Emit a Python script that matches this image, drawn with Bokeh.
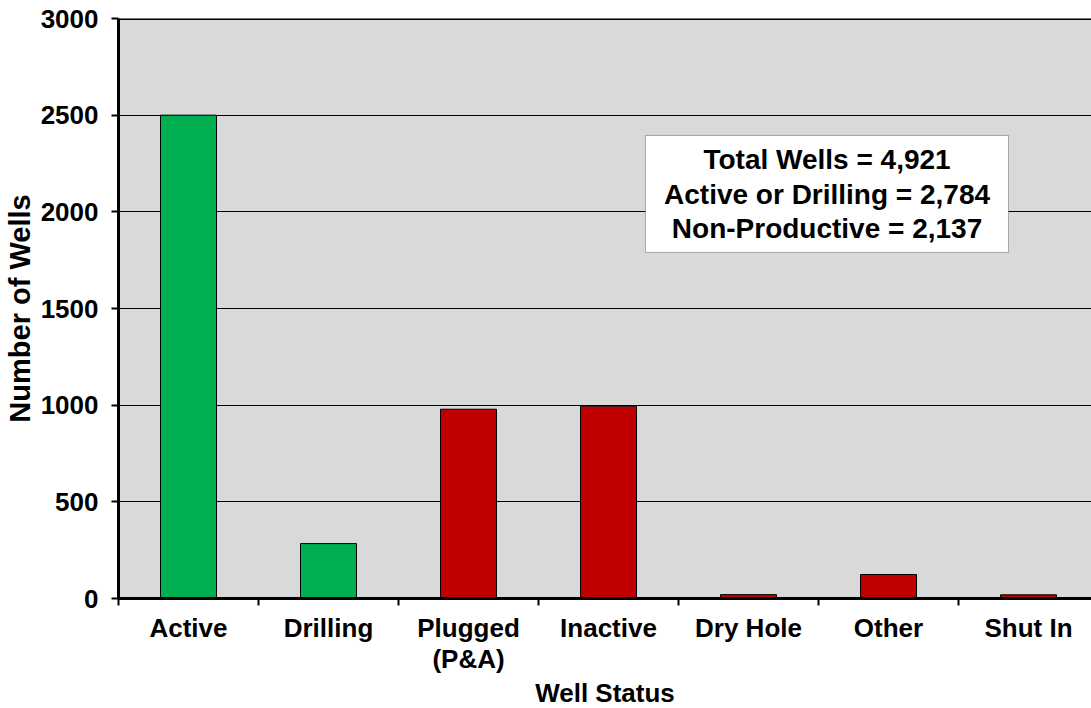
from bokeh.plotting import figure
from bokeh.models import Range1d, FixedTicker, Label, BoxAnnotation, ColumnDataSource, Span
from bokeh.embed import file_html
from bokeh.resources import INLINE

categories = ["Active", "Drilling", "Plugged\n(P&A)", "Inactive", "Dry Hole", "Other", "Shut In"]
wells = [2500, 284, 979, 995, 20, 124, 19]
productive = [True, True, False, False, False, False, False]
y_ticks = [0, 500, 1000, 1500, 2000, 2500, 3000]
summary_lines = ["Total Wells = 4,921", "Active or Drilling = 2,784", "Non-Productive = 2,137"]

GREEN = "#00b050"
RED = "#c00000"
FONT = "Liberation Sans"

xs = [i + 0.5 for i in range(len(categories))]
colors = [GREEN if p else RED for p in productive]
src = ColumnDataSource(dict(x=xs, top=wells, color=colors))

p = figure(frame_width=973, frame_height=580,
           x_range=Range1d(0, 973 / 140), y_range=Range1d(0, 3000),
           output_backend="svg", toolbar_location=None,
           background_fill_color="#d9d9d9", border_fill_color="white",
           min_border_left=110, min_border_top=18, min_border_right=0, min_border_bottom=100)
p.outline_line_color = None

p.vbar(x="x", top="top", width=0.4, bottom=0, fill_color="color",
       line_color="black", line_width=1, source=src)

# grids
p.xgrid.visible = False
p.ygrid.ticker = FixedTicker(ticks=y_ticks)
p.ygrid.grid_line_color = "black"
p.ygrid.grid_line_width = 1

# x axis
xa = p.xaxis[0]
xa.ticker = FixedTicker(ticks=xs, minor_ticks=list(range(len(categories) + 1)))
xa.major_label_overrides = {x: c for x, c in zip(xs, categories)}
xa.major_tick_out = 0
xa.major_tick_in = 0
xa.minor_tick_out = 7
xa.minor_tick_in = 0
xa.minor_tick_line_color = "black"
xa.minor_tick_line_width = 2
xa.axis_line_color = "black"
xa.axis_line_width = 3
xa.major_label_text_font = FONT
xa.major_label_text_font_style = "bold"
xa.major_label_text_font_size = "26px"
xa.major_label_text_color = "black"
xa.major_label_text_line_height = 1.05
xa.major_label_standoff = 7
xa.axis_label = "Well Status"
xa.axis_label_text_font = FONT
xa.axis_label_text_font_style = "bold"
xa.axis_label_text_font_size = "26px"
xa.axis_label_text_color = "black"
xa.axis_label_standoff = 1

# y axis
ya = p.yaxis[0]
ya.ticker = FixedTicker(ticks=y_ticks)
ya.major_tick_out = 7
ya.major_tick_in = 0
ya.major_tick_line_width = 2
ya.minor_tick_line_color = None
ya.axis_line_width = 3
ya.major_label_text_font = FONT
ya.major_label_text_font_style = "bold"
ya.major_label_text_font_size = "26px"
ya.major_label_text_color = "black"
ya.major_label_standoff = 13
ya.axis_label = "Number of Wells"
ya.axis_label_text_font = FONT
ya.axis_label_text_font_style = "bold"
ya.axis_label_text_font_size = "29px"
ya.axis_label_text_color = "black"
ya.axis_label_standoff = 2

# top border line
p.add_layout(Span(location=3000, dimension="width", line_color="black", line_width=3))

# summary box
box = BoxAnnotation(left=3.764, right=6.357, bottom=1790, top=2395,
                    fill_color="white", fill_alpha=1.0, line_color="black", line_width=1)
p.add_layout(box)
lbl = Label(x=5.061, y=2092, text="\n".join(summary_lines), text_align="center",
            text_baseline="middle", text_font=FONT, text_font_style="bold",
            text_font_size="28px", text_color="black", text_line_height=1.1)
p.add_layout(lbl)

open("out.html", "w").write(file_html(p, INLINE))
